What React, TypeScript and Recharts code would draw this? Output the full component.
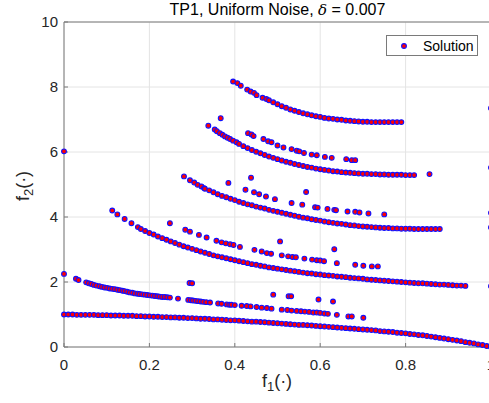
import React from 'react';
import {
  CartesianGrid,
  Scatter,
  ScatterChart,
  XAxis,
  YAxis,
} from 'recharts';

// Pareto-front style scatter
type Pt = [number, number];

const xTicks = [0, 0.2, 0.4, 0.6, 0.8, 1];
const yTicks = [0, 2, 4, 6, 8, 10];

// lowest dense front
const bandA: Pt[] = [
  [0, 1], [0.01, 1], [0.02, 1], [0.03, 0.99], [0.04, 0.99], [0.05, 0.99], [0.06, 0.99],
  [0.07, 0.99], [0.08, 0.98], [0.09, 0.98], [0.1, 0.98], [0.11, 0.97], [0.12, 0.97],
  [0.13, 0.97], [0.14, 0.96], [0.15, 0.96], [0.16, 0.96], [0.17, 0.95], [0.18, 0.95],
  [0.19, 0.94], [0.2, 0.94], [0.21, 0.93], [0.22, 0.93], [0.23, 0.92], [0.24, 0.92],
  [0.25, 0.91], [0.26, 0.91], [0.27, 0.9], [0.28, 0.9], [0.29, 0.89], [0.3, 0.89],
  [0.31, 0.88], [0.32, 0.87], [0.33, 0.87], [0.34, 0.86], [0.35, 0.85], [0.36, 0.85],
  [0.37, 0.84], [0.38, 0.83], [0.39, 0.82], [0.4, 0.82], [0.41, 0.81], [0.42, 0.8],
  [0.43, 0.79], [0.44, 0.78], [0.45, 0.78], [0.46, 0.77], [0.47, 0.76], [0.48, 0.75],
  [0.49, 0.74], [0.5, 0.73], [0.51, 0.72], [0.52, 0.71], [0.53, 0.7], [0.54, 0.69],
  [0.55, 0.68], [0.56, 0.68], [0.57, 0.67], [0.58, 0.66], [0.59, 0.65], [0.6, 0.64],
  [0.61, 0.63], [0.62, 0.62], [0.63, 0.61], [0.64, 0.6], [0.65, 0.59], [0.66, 0.58],
  [0.67, 0.57], [0.68, 0.56], [0.69, 0.55], [0.7, 0.54], [0.71, 0.53], [0.72, 0.52],
  [0.73, 0.51], [0.74, 0.49], [0.75, 0.48], [0.76, 0.47], [0.77, 0.46], [0.78, 0.44],
  [0.79, 0.43], [0.8, 0.42], [0.81, 0.4], [0.82, 0.39], [0.83, 0.37], [0.84, 0.36],
  [0.85, 0.34], [0.86, 0.32], [0.87, 0.3], [0.88, 0.28], [0.89, 0.26], [0.9, 0.24],
  [0.91, 0.22], [0.92, 0.2], [0.93, 0.18], [0.94, 0.15], [0.95, 0.13], [0.96, 0.11],
  [0.97, 0.08], [0.98, 0.06], [0.99, 0.03], [1, 0],
];

const bandB: Pt[] = [
  [0.028, 2.1], [0.034, 2.06], [0.052, 1.99], [0.058, 1.96], [0.064, 1.94], [0.07, 1.91],
  [0.076, 1.89], [0.083, 1.87], [0.089, 1.85], [0.095, 1.83], [0.101, 1.82], [0.107, 1.8],
  [0.113, 1.79], [0.119, 1.78], [0.125, 1.76], [0.131, 1.75], [0.137, 1.73], [0.142, 1.72],
  [0.148, 1.7], [0.154, 1.68], [0.16, 1.67], [0.166, 1.65], [0.172, 1.64], [0.177, 1.63],
  [0.183, 1.62], [0.189, 1.61], [0.195, 1.6], [0.201, 1.59], [0.207, 1.58], [0.213, 1.57],
  [0.219, 1.56], [0.224, 1.55], [0.23, 1.54], [0.236, 1.54], [0.242, 1.53], [0.248, 1.52],
  [0.267, 1.49], [0.291, 1.45], [0.297, 1.44], [0.302, 1.43], [0.308, 1.42], [0.314, 1.41],
  [0.32, 1.4], [0.326, 1.39], [0.333, 1.38], [0.342, 1.37], [0.361, 1.34], [0.369, 1.33],
  [0.381, 1.31], [0.387, 1.3], [0.392, 1.3], [0.4, 1.29], [0.416, 1.27], [0.428, 1.26],
  [0.437, 1.25], [0.451, 1.23], [0.463, 1.21], [0.475, 1.2], [0.486, 1.18], [0.51, 1.15],
  [0.523, 1.14], [0.533, 1.12], [0.545, 1.11], [0.555, 1.1], [0.564, 1.09], [0.574, 1.08],
  [0.584, 1.06], [0.592, 1.06], [0.6, 1.05], [0.61, 1.03], [0.618, 1.02], [0.639, 0.99],
  [0.666, 0.94], [0.674, 0.94], [0.701, 0.9],
];

const bandC: Pt[] = [
  [0.113, 4.2], [0.125, 4.08], [0.142, 3.94], [0.158, 3.81], [0.173, 3.69], [0.18, 3.63],
  [0.19, 3.57], [0.2, 3.51], [0.21, 3.46], [0.22, 3.4], [0.23, 3.35], [0.24, 3.3],
  [0.25, 3.25], [0.26, 3.2], [0.27, 3.15], [0.28, 3.1], [0.29, 3.06], [0.3, 3.02],
  [0.31, 2.98], [0.32, 2.94], [0.33, 2.9], [0.34, 2.86], [0.35, 2.82], [0.36, 2.79],
  [0.37, 2.76], [0.38, 2.73], [0.39, 2.7], [0.4, 2.67], [0.41, 2.64], [0.42, 2.61],
  [0.43, 2.58], [0.44, 2.55], [0.45, 2.53], [0.46, 2.5], [0.47, 2.48], [0.48, 2.45],
  [0.49, 2.43], [0.5, 2.41], [0.51, 2.39], [0.52, 2.37], [0.53, 2.35], [0.54, 2.33],
  [0.55, 2.31], [0.56, 2.29], [0.57, 2.27], [0.58, 2.26], [0.59, 2.24], [0.6, 2.23],
  [0.61, 2.21], [0.62, 2.2], [0.63, 2.19], [0.64, 2.17], [0.65, 2.16], [0.66, 2.15],
  [0.67, 2.13], [0.68, 2.12], [0.69, 2.11], [0.7, 2.1], [0.71, 2.08], [0.72, 2.07],
  [0.73, 2.06], [0.74, 2.05], [0.75, 2.04], [0.76, 2.03], [0.77, 2.02], [0.78, 2.01],
  [0.79, 2.0], [0.8, 1.99], [0.81, 1.98], [0.82, 1.97], [0.83, 1.96], [0.84, 1.96],
  [0.85, 1.95], [0.86, 1.94], [0.87, 1.93], [0.88, 1.92], [0.89, 1.92], [0.9, 1.91],
  [0.91, 1.9], [0.92, 1.89], [0.93, 1.89], [0.94, 1.88],
];

const bandCUpper: Pt[] = [
  [0.284, 3.61], [0.295, 3.55], [0.316, 3.45], [0.334, 3.37], [0.357, 3.27], [0.369, 3.22],
  [0.379, 3.19], [0.389, 3.16], [0.397, 3.14], [0.412, 3.08], [0.446, 2.99], [0.463, 2.94],
  [0.475, 2.89], [0.485, 2.87], [0.51, 2.82], [0.525, 2.79], [0.535, 2.77], [0.543, 2.76],
  [0.563, 2.72], [0.581, 2.69], [0.592, 2.67], [0.6, 2.66], [0.609, 2.64], [0.639, 2.58],
  [0.682, 2.53], [0.701, 2.5], [0.721, 2.48], [0.735, 2.48],
];

const bandD: Pt[] = [
  [0.281, 5.25], [0.295, 5.13], [0.305, 5.06], [0.313, 4.99], [0.322, 4.94], [0.328, 4.89],
  [0.33, 4.87], [0.34, 4.82], [0.35, 4.76], [0.36, 4.7], [0.37, 4.65], [0.38, 4.61],
  [0.39, 4.56], [0.4, 4.52], [0.41, 4.47], [0.42, 4.43], [0.43, 4.39], [0.44, 4.36],
  [0.45, 4.32], [0.46, 4.29], [0.47, 4.26], [0.48, 4.22], [0.49, 4.19], [0.5, 4.16],
  [0.51, 4.13], [0.52, 4.1], [0.53, 4.07], [0.54, 4.04], [0.55, 4.01], [0.56, 3.98],
  [0.57, 3.96], [0.58, 3.93], [0.59, 3.91], [0.6, 3.89], [0.61, 3.86], [0.62, 3.84],
  [0.63, 3.82], [0.64, 3.8], [0.65, 3.79], [0.66, 3.77], [0.67, 3.75], [0.68, 3.74],
  [0.69, 3.72], [0.7, 3.71], [0.71, 3.7], [0.72, 3.69], [0.73, 3.68], [0.74, 3.67],
  [0.75, 3.66], [0.76, 3.66], [0.77, 3.65], [0.78, 3.65], [0.79, 3.64], [0.8, 3.64],
  [0.81, 3.64], [0.82, 3.63], [0.83, 3.63], [0.84, 3.63], [0.85, 3.63], [0.86, 3.63],
  [0.87, 3.63], [0.88, 3.63],
];

const bandDUpper: Pt[] = [
  [0.425, 4.84], [0.445, 4.76], [0.457, 4.7], [0.473, 4.63], [0.494, 4.55], [0.533, 4.43],
  [0.558, 4.38], [0.588, 4.3], [0.594, 4.29], [0.617, 4.25], [0.633, 4.22], [0.637, 4.21],
  [0.664, 4.17], [0.682, 4.16], [0.692, 4.14], [0.713, 4.11], [0.75, 4.08],
];

const bandE: Pt[] = [
  [0.338, 6.81], [0.353, 6.69], [0.358, 6.64], [0.365, 6.58], [0.371, 6.53], [0.377, 6.48],
  [0.383, 6.44], [0.389, 6.4], [0.396, 6.35], [0.404, 6.3], [0.41, 6.25], [0.42, 6.18],
  [0.43, 6.12], [0.44, 6.06], [0.45, 6.01], [0.46, 5.96], [0.47, 5.91], [0.48, 5.86],
  [0.49, 5.82], [0.5, 5.78], [0.51, 5.74], [0.52, 5.7], [0.53, 5.67], [0.54, 5.63],
  [0.55, 5.6], [0.56, 5.57], [0.57, 5.54], [0.58, 5.52], [0.59, 5.49], [0.6, 5.47],
  [0.61, 5.45], [0.62, 5.43], [0.63, 5.41], [0.64, 5.4], [0.65, 5.38], [0.66, 5.37],
  [0.67, 5.36], [0.68, 5.35], [0.69, 5.34], [0.7, 5.33], [0.71, 5.33], [0.72, 5.32],
  [0.73, 5.32], [0.74, 5.31], [0.75, 5.31], [0.76, 5.3], [0.77, 5.3], [0.78, 5.3],
  [0.79, 5.3], [0.8, 5.29], [0.81, 5.29], [0.82, 5.29],
];

const bandEUpper: Pt[] = [
  [0.431, 6.58], [0.439, 6.54], [0.444, 6.49], [0.467, 6.4], [0.478, 6.33], [0.486, 6.3],
  [0.5, 6.2], [0.514, 6.14], [0.533, 6.09], [0.545, 6.04], [0.551, 6.02], [0.562, 5.97],
  [0.58, 5.92], [0.592, 5.9], [0.611, 5.85], [0.627, 5.82], [0.661, 5.78], [0.674, 5.75],
  [0.682, 5.75],
];

const bandF: Pt[] = [
  [0.396, 8.17], [0.406, 8.12], [0.414, 8.04], [0.429, 7.92], [0.437, 7.86], [0.445, 7.82],
  [0.451, 7.75], [0.465, 7.67], [0.474, 7.63], [0.48, 7.59], [0.49, 7.53], [0.5, 7.47],
  [0.51, 7.41], [0.52, 7.36], [0.53, 7.31], [0.54, 7.27], [0.55, 7.23], [0.56, 7.19],
  [0.57, 7.16], [0.58, 7.13], [0.59, 7.1], [0.6, 7.08], [0.61, 7.05], [0.62, 7.03],
  [0.63, 7.02], [0.64, 7.0], [0.65, 6.99], [0.66, 6.97], [0.67, 6.96], [0.68, 6.95],
  [0.69, 6.94], [0.7, 6.93], [0.71, 6.93], [0.72, 6.92], [0.73, 6.92], [0.74, 6.92],
  [0.75, 6.92], [0.76, 6.92], [0.77, 6.92], [0.78, 6.92], [0.79, 6.92],
];

// isolated points
const strays: Pt[] = [
  [0, 6.02], [0, 2.25], [0.367, 7.04], [0.385, 5.05], [0.438, 5.21], [0.567, 4.77],
  [0.248, 3.81], [0.506, 3.25], [0.633, 3.01], [0.294, 1.97], [0.3, 1.96], [0.49, 1.61],
  [0.526, 1.56], [0.532, 1.56], [0.596, 1.46], [0.63, 1.4], [0.856, 5.32],
];

// points sitting on the right border (x = 1)
const edgePoints: Pt[] = [[1, 7.35], [1, 5.52], [1, 4.13], [1, 3.68], [1, 1.87]];

const solution = [
  ...bandA, ...bandB, ...bandC, ...bandCUpper, ...bandD, ...bandDUpper,
  ...bandE, ...bandEUpper, ...bandF, ...strays, ...edgePoints,
].map(([x, y]) => ({ x, y }));

const FONT = '"Liberation Sans", Arial, Helvetica, sans-serif';
const AXIS = '#7a7a7a';
const TEXT = '#262626';

const Marker = (props: any) => (
  <circle cx={props.cx} cy={props.cy} r={2.4} fill="#ff0000" stroke="#1010ff" strokeWidth={1.1} />
);

const tickStyle = { fill: TEXT, fontSize: 15, fontFamily: FONT };

export default function App() {
  return (
    <div
      style={{
        position: 'fixed',
        left: 0,
        top: 0,
        width: 489,
        height: 403,
        overflow: 'hidden',
        background: '#fff',
        fontFamily: FONT,
      }}
    >
      <ScatterChart width={497} height={403} margin={{ top: 21, right: 5, bottom: 0, left: 0 }}>
        <CartesianGrid stroke="#e4e4e4" />
        <XAxis
          type="number"
          dataKey="x"
          domain={[0, 1]}
          ticks={xTicks}
          height={56}
          tickSize={-4}
          tickMargin={16}
          axisLine={{ stroke: AXIS }}
          tickLine={{ stroke: AXIS }}
          tick={tickStyle}
        />
        <XAxis
          xAxisId="top"
          orientation="top"
          type="number"
          domain={[0, 1]}
          ticks={xTicks}
          height={1}
          tickSize={-4}
          tick={false}
          axisLine={{ stroke: AXIS }}
          tickLine={{ stroke: AXIS }}
        />
        <YAxis
          type="number"
          dataKey="y"
          domain={[0, 10]}
          ticks={yTicks}
          width={64}
          tickSize={-4}
          tickMargin={10}
          axisLine={{ stroke: AXIS }}
          tickLine={{ stroke: AXIS }}
          tick={tickStyle}
        />
        <YAxis
          yAxisId="right"
          orientation="right"
          type="number"
          domain={[0, 10]}
          ticks={yTicks}
          width={1}
          tickSize={-4}
          tick={false}
          axisLine={{ stroke: AXIS }}
          tickLine={{ stroke: AXIS }}
        />
        <Scatter name="Solution" data={solution} shape={Marker} isAnimationActive={false} />
      </ScatterChart>

      {/* Title */}
      <div
        style={{
          position: 'absolute',
          left: 64,
          width: 427,
          top: 1,
          textAlign: 'center',
          fontSize: 16,
          color: '#000',
          whiteSpace: 'nowrap',
        }}
      >
        TP1, Uniform Noise, <i style={{ fontFamily: '"DejaVu Serif", serif', fontSize: 15 }}>δ</i> = 0.007
      </div>

      {/* x label */}
      <div
        style={{
          position: 'absolute',
          left: 277,
          top: 382,
          transform: 'translate(-50%, -50%)',
          fontSize: 18,
          lineHeight: '18px',
          color: TEXT,
          whiteSpace: 'nowrap',
        }}
      >
        f<span style={{ fontSize: 13, position: 'relative', top: 4 }}>1</span>(·)
      </div>

      {/* y label */}
      <div
        style={{
          position: 'absolute',
          left: 24,
          top: 186,
          transform: 'translate(-50%, -50%) rotate(-90deg)',
          fontSize: 18,
          lineHeight: '18px',
          color: TEXT,
          whiteSpace: 'nowrap',
        }}
      >
        f<span style={{ fontSize: 13, position: 'relative', top: 4 }}>2</span>(·)
      </div>

      {/* Legend */}
      <div
        style={{
          position: 'absolute',
          left: 386,
          top: 35,
          width: 90,
          height: 19,
          border: `1px solid ${AXIS}`,
          background: '#fff',
          display: 'flex',
          alignItems: 'center',
          fontSize: 14,
          color: '#000',
        }}
      >
        <svg width={34} height={19} style={{ display: 'block' }}>
          <circle cx={17} cy={10} r={2.4} fill="#ff0000" stroke="#1010ff" strokeWidth={1.1} />
        </svg>
        <span style={{ marginLeft: 2 }}>Solution</span>
      </div>
    </div>
  );
}
